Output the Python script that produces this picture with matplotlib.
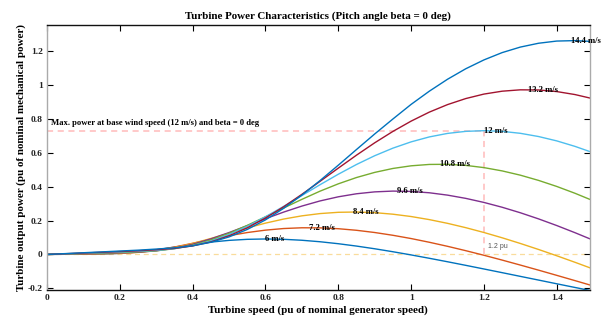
import matplotlib
matplotlib.use("Agg")
import matplotlib.pyplot as plt
from matplotlib.ticker import FuncFormatter

# ---------------- data ----------------
speed = [0, 0.05, 0.10, 0.15, 0.20, 0.25, 0.30, 0.35, 0.40, 0.45, 0.50, 0.55,
         0.60, 0.65, 0.70, 0.75, 0.80, 0.85, 0.90, 0.95, 1.00, 1.05, 1.10,
         1.15, 1.20, 1.25, 1.30, 1.35, 1.40, 1.45, 1.49]

p_6 = [0, 0.0009, 0.0018, 0.0029, 0.0064, 0.0147, 0.0278, 0.0434, 0.0591, 0.0728,
       0.0830, 0.0892, 0.0913, 0.0893, 0.0837, 0.0749, 0.0633, 0.0494, 0.0335,
       0.0160, -0.0028, -0.0226, -0.0431, -0.0642, -0.0857, -0.1074, -0.1293,
       -0.1511, -0.1730, -0.1947, -0.2119]
p_7_2 = [0, 0.0013, 0.0025, 0.0040, 0.0064, 0.0128, 0.0253, 0.0437, 0.0658, 0.0889,
         0.1106, 0.1292, 0.1434, 0.1529, 0.1573, 0.1568, 0.1518, 0.1425, 0.1294,
         0.1130, 0.0938, 0.0719, 0.0480, 0.0223, -0.0048, -0.0332, -0.0626,
         -0.0926, -0.1233, -0.1543, -0.1794]
p_8_4 = [0, 0.0017, 0.0034, 0.0052, 0.0075, 0.0123, 0.0226, 0.0402, 0.0648, 0.0942,
         0.1255, 0.1564, 0.1847, 0.2088, 0.2277, 0.2411, 0.2486, 0.2503, 0.2465,
         0.2374, 0.2237, 0.2055, 0.1835, 0.1580, 0.1295, 0.0983, 0.0648, 0.0294,
         -0.0077, -0.0462, -0.0779]
p_9_6 = [0, 0.0022, 0.0045, 0.0067, 0.0094, 0.0132, 0.0213, 0.0367, 0.0600, 0.0918,
         0.1292, 0.1697, 0.2107, 0.2499, 0.2853, 0.3157, 0.3400, 0.3579, 0.3691,
         0.3737, 0.3717, 0.3638, 0.3499, 0.3308, 0.3068, 0.2784, 0.2459, 0.2098,
         0.1705, 0.1284, 0.0930]
p_10_8 = [0, 0.0028, 0.0057, 0.0085, 0.0114, 0.0154, 0.0215, 0.0340, 0.0550, 0.0855,
          0.1251, 0.1715, 0.2221, 0.2741, 0.3250, 0.3734, 0.4165, 0.4537, 0.4840,
          0.5072, 0.5228, 0.5309, 0.5317, 0.5253, 0.5122, 0.4928, 0.4676, 0.4368,
          0.4011, 0.3609, 0.3256]
p_12 = [0, 0.0035, 0.0070, 0.0105, 0.0141, 0.0184, 0.0236, 0.0341, 0.0517, 0.0794,
        0.1180, 0.1659, 0.2220, 0.2836, 0.3475, 0.4115, 0.4731, 0.5306, 0.5823,
        0.6270, 0.6640, 0.6932, 0.7139, 0.7260, 0.7301, 0.7260, 0.7145, 0.6955,
        0.6698, 0.6375, 0.6074]
p_13_2 = [0, 0.0042, 0.0085, 0.0127, 0.0170, 0.0215, 0.0276, 0.0357, 0.0504, 0.0741,
          0.1100, 0.1571, 0.2148, 0.2811, 0.3546, 0.4314, 0.5091, 0.5856, 0.6585,
          0.7257, 0.7864, 0.8395, 0.8838, 0.9194, 0.9459, 0.9629, 0.9710, 0.9702,
          0.9607, 0.9431, 0.9231]
p_14_4 = [0, 0.0050, 0.0101, 0.0151, 0.0202, 0.0253, 0.0318, 0.0389, 0.0510, 0.0718,
          0.1035, 0.1474, 0.2039, 0.2722, 0.3503, 0.4360, 0.5264, 0.6189, 0.7106,
          0.7989, 0.8851, 0.9629, 1.0333, 1.0951, 1.1474, 1.1905, 1.2231, 1.2457,
          1.2586, 1.2612, 1.2570]

wind_labels = ["6 m/s", "7.2 m/s", "8.4 m/s", "9.6 m/s", "10.8 m/s", "12 m/s",
               "13.2 m/s", "14.4 m/s"]
peak_speed = [0.60, 0.72, 0.84, 0.96, 1.08, 1.20, 1.32, 1.44]
peak_power = [0.091, 0.158, 0.250, 0.374, 0.532, 0.730, 0.972, 1.261]

base_speed = 1.2
base_power = 0.73

series = [p_6, p_7_2, p_8_4, p_9_6, p_10_8, p_12, p_13_2, p_14_4]
colors = ["#0072BD", "#D95319", "#EDB120", "#7E2F8E", "#77AC30", "#4DBEEE",
          "#A2142F", "#0072BD"]

# ---------------- figure ----------------
serif = ["Liberation Serif", "DejaVu Serif"]
fig = plt.figure(figsize=(6.09, 3.23), dpi=100)
ax = fig.add_axes([0.0772, 0.102, 0.8908, 0.822])

# reference dashed lines
ax.plot([0, speed[-1]], [0, 0], ls=(0, (4, 3)), color="#F9DC9C", lw=0.9, zorder=1)
ax.plot([0, base_speed], [base_power, base_power], ls=(0, (4, 3)),
        color="#FFBABA", lw=1.1, zorder=1)
ax.plot([base_speed, base_speed], [0, base_power], ls=(0, (4, 3)),
        color="#FFBABA", lw=1.1, zorder=1)

for ys, c in zip(series, colors):
    ax.plot(speed, ys, color=c, lw=1.0, zorder=2)

for lab, px, py in zip(wind_labels, peak_speed, peak_power):
    ax.text(px, py, lab, ha="left", va="center", fontsize=6.2,
            fontweight="bold", family=serif, color="black", zorder=3)

ax.text(0.01, 0.777, "Max. power at base wind speed (12 m/s) and beta = 0 deg",
        ha="left", va="center", fontsize=6.2, fontweight="bold", family=serif)
ax.text(1.21, 0.046, "1.2 pu", ha="left", va="center", fontsize=5.0,
        family=["Liberation Sans", "DejaVu Sans"], color="#555555")

ax.set_xlim(0, 1.49)
ax.set_ylim(-0.21, 1.356)
ax.set_xticks([0, 0.2, 0.4, 0.6, 0.8, 1.0, 1.2, 1.4])
ax.set_yticks([-0.2, 0, 0.2, 0.4, 0.6, 0.8, 1.0, 1.2])
fmt = FuncFormatter(lambda v, p: ("%g" % round(v, 2)))
ax.xaxis.set_major_formatter(fmt)
ax.yaxis.set_major_formatter(fmt)
ax.tick_params(direction="in", length=4.5, width=0.8, top=True, right=True,
               labelsize=6.8, pad=3, colors="black")
for lbl in ax.get_xticklabels() + ax.get_yticklabels():
    lbl.set_fontfamily(serif)
    lbl.set_fontweight("bold")
    lbl.set_color("#222222")

for s in ["top", "bottom"]:
    ax.spines[s].set_color("#111111")
    ax.spines[s].set_linewidth(1.0)
for s in ["left", "right"]:
    ax.spines[s].set_color("#AAAAAA")
    ax.spines[s].set_linewidth(1.0)

ax.set_title("Turbine Power Characteristics (Pitch angle beta = 0 deg)",
             fontsize=7.9, fontweight="bold", family=serif, pad=4)
ax.set_xlabel("Turbine speed (pu of nominal generator speed)", fontsize=7.9,
              fontweight="bold", family=serif, labelpad=2)
ax.set_ylabel("Turbine output power (pu of nominal mechanical power)",
              fontsize=7.9, fontweight="bold", family=serif, labelpad=1)

fig.savefig("out.png", dpi=100)
